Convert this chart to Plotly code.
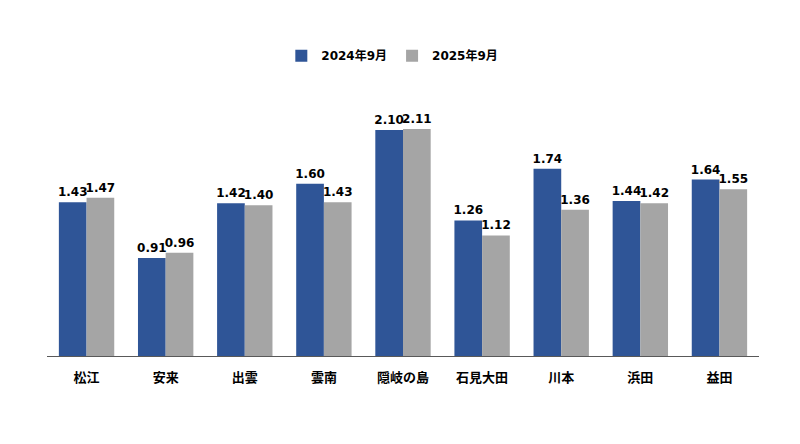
import plotly.graph_objects as go

categories = ["松江", "安来", "出雲", "雲南", "隠岐の島", "石見大田", "川本", "浜田", "益田"]
series_2024 = [1.43, 0.91, 1.42, 1.60, 2.10, 1.26, 1.74, 1.44, 1.64]
series_2025 = [1.47, 0.96, 1.40, 1.43, 2.11, 1.12, 1.36, 1.42, 1.55]
series_names = ["2024年9月", "2025年9月"]

FONT = "DejaVu Sans, Noto Sans CJK JP, sans-serif"

fig = go.Figure()
for name, vals, color in [(series_names[0], series_2024, "#2F5597"),
                          (series_names[1], series_2025, "#A5A5A5")]:
    fig.add_trace(go.Bar(
        x=categories, y=vals, name=name, marker_color=color,
        marker_line_width=0,
        text=[f"{v:.2f}" for v in vals], textposition="outside",
        textfont=dict(family=FONT, size=12, color="#000000", weight="bold"),
        constraintext="none",
        cliponaxis=False,
    ))

fig.update_layout(
    width=800, height=444,
    paper_bgcolor="white", plot_bgcolor="white",
    barmode="group", bargap=0.3, bargroupgap=0,
    margin=dict(l=39, r=49, t=79, b=96),
    font=dict(family=FONT, size=12, color="#000000"),
    legend=dict(orientation="h", x=0.485, xanchor="center", y=0.86, yanchor="bottom",
                yref="container", font=dict(family=FONT, size=12, color="#000000", weight="bold"),
                itemwidth=30, traceorder="normal"),
    showlegend=True,
)
fig.update_xaxes(showline=True, linecolor="#595959", linewidth=1,
                 ticks="outside", ticklen=9, tickcolor="rgba(0,0,0,0)",
                 tickfont=dict(family=FONT, size=13, color="#000000", weight="bold"),
                 showgrid=False)
fig.update_yaxes(range=[0, 2.5], visible=False, showgrid=False, zeroline=False)

fig.write_html("out.html")
